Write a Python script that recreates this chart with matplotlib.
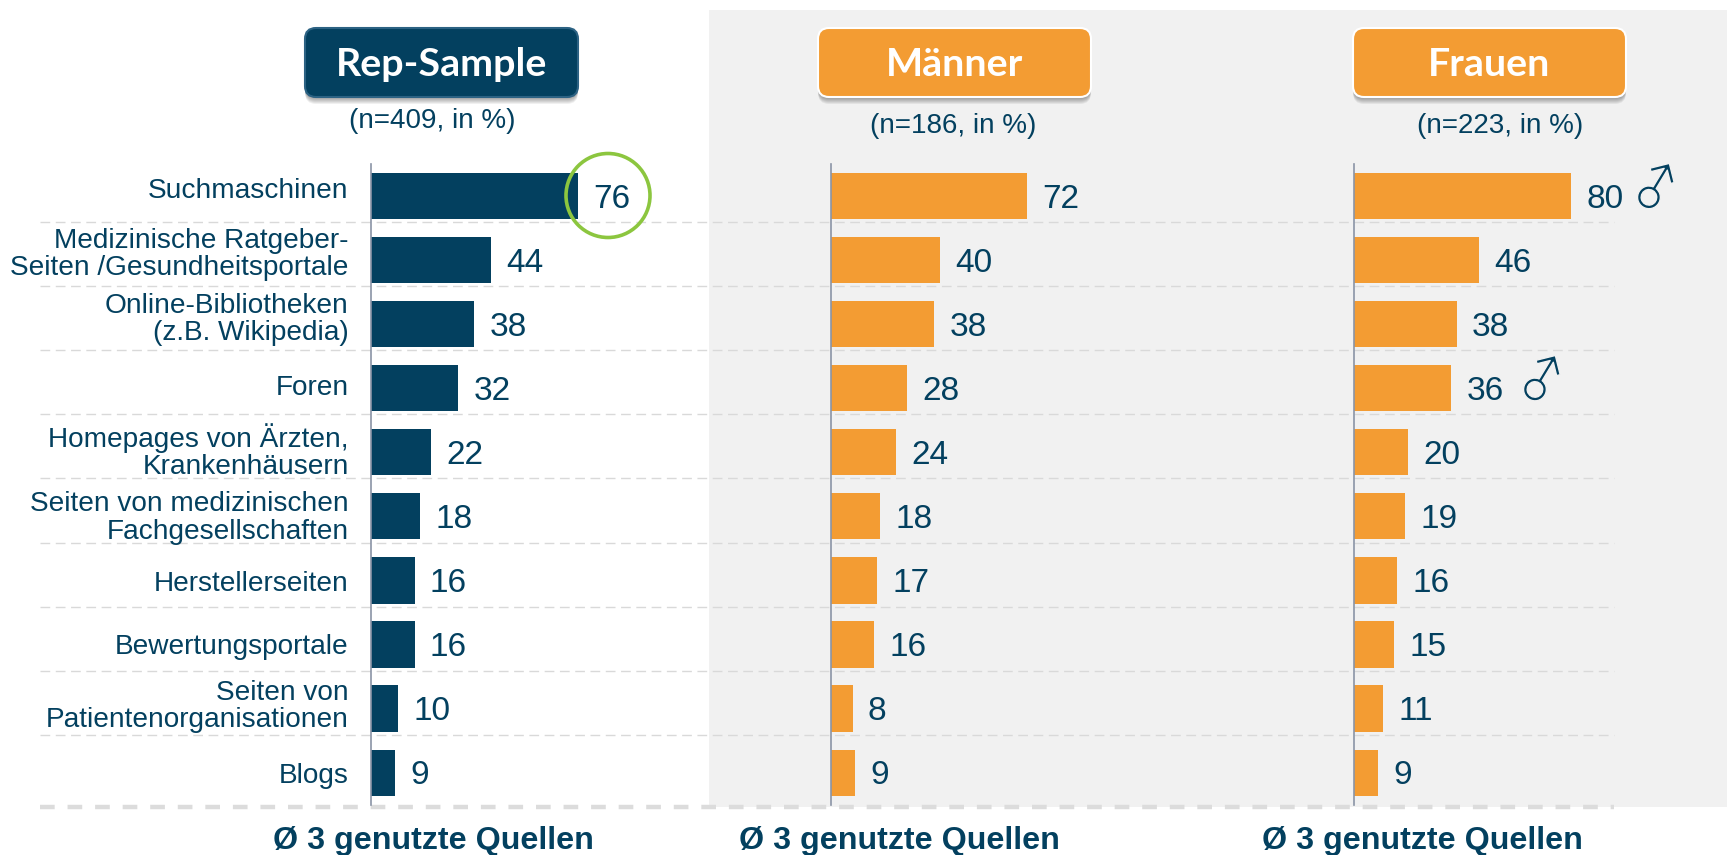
"""Rep-Sample / Männer / Frauen horizontal bars with a shared category column."""
import matplotlib
matplotlib.use("Agg")
import matplotlib.pyplot as plt
import matplotlib.patheffects as pe
from matplotlib.patches import Circle, FancyBboxPatch, Rectangle

W, H = 1727, 855
NAVY = "#03405F"
ORANGE = "#F39C33"
PANEL = "#F1F1F1"

categories = [
    "Suchmaschinen",
    "Medizinische Ratgeber-\nSeiten /Gesundheitsportale",
    "Online-Bibliotheken\n(z.B. Wikipedia)",
    "Foren",
    "Homepages von Ärzten,\nKrankenhäusern",
    "Seiten von medizinischen\nFachgesellschaften",
    "Herstellerseiten",
    "Bewertungsportale",
    "Seiten von\nPatientenorganisationen",
    "Blogs",
]
rep_values = [76, 44, 38, 32, 22, 18, 16, 16, 10, 9]
men_values = [72, 40, 38, 28, 24, 18, 17, 16, 8, 9]
women_values = [80, 46, 38, 36, 20, 19, 16, 15, 11, 9]
subtitles = ["(n=409, in %)", "(n=186, in %)", "(n=223, in %)"]
titles = ["Rep-Sample", "Männer", "Frauen"]
footer = "Ø 3 genutzte Quellen"
male_rows = [0, 3]

# the category labels do not sit at one fixed height against their bars (points)
label_nudge = [4.0, 4.4, 3.2, 0.0, 0.8, -1.2, -2.4, -1.6, 1.6, -2.4]

plt.rcParams["font.family"] = ["Liberation Sans", "DejaVu Sans"]

fig = plt.figure(figsize=(W / 100, H / 100), dpi=100)

# pixel-space layers behind and above the bar axes
bg = fig.add_axes([0, 0, 1, 1], zorder=0)
fg = fig.add_axes([0, 0, 1, 1], zorder=5)
for layer in (bg, fg):
    layer.set_xlim(0, W)
    layer.set_ylim(H, 0)
    layer.axis("off")
    layer.patch.set_visible(False)

bg.add_patch(Rectangle((709, 10), W - 709, 797, facecolor=PANEL, edgecolor="none"))

# row separators
for i in range(9):
    y = 222.3 + 64.04 * i
    bg.plot([40, 1614], [y, y], color="#D9D9D9", lw=1.0, ls=(0, (7, 4)))
bg.plot([40, 1614], [806.7, 806.7], color="#DCDCDC", lw=3.2, ls=(0, (3.3, 2.9)))


def bar_panel(x0, values, color, labels=False):
    # x scale is the same in all three panels: 2.72 px per percent
    width = 300
    ax = fig.add_axes([x0 / W, 1 - 804.6 / H, width / W, 640.4 / H], zorder=2)
    ax.patch.set_visible(False)
    ax.set_xlim(0, width / 2.72)
    ax.set_ylim(9.5, -0.5)
    ax.barh(range(len(values)), values, height=0.72, color=color)
    for side in ("top", "right", "bottom"):
        ax.spines[side].set_visible(False)
    ax.spines["left"].set_color("#8A94A6")
    ax.spines["left"].set_linewidth(1.2)
    ax.set_xticks([])
    ax.set_yticks([])
    for i, v in enumerate(values):
        ax.annotate(str(v), (v, i), xytext=(11, -2.2), textcoords="offset points",
                    ha="left", va="center", fontsize=24, color=NAVY)
    if labels:
        for i, name in enumerate(categories):
            ax.annotate(name, (0, i), xytext=(-16, label_nudge[i]), textcoords="offset points",
                        ha="right", va="center", ma="right", fontsize=20.2,
                        color=NAVY, linespacing=1.06)
    return ax


bar_panel(371, rep_values, NAVY, labels=True)
bar_panel(830.8, men_values, ORANGE)
bar_panel(1353.5, women_values, ORANGE)


def header(x0, x1, text, face, edge):
    y0, y1 = 28, 97
    box = dict(boxstyle="round,pad=0,rounding_size=11")
    for k in range(7, 0, -1):
        bg.add_patch(FancyBboxPatch((x0, y0 + k), x1 - x0, y1 - y0, facecolor="#000000",
                                    edgecolor="none", alpha=0.06, **box))
    bg.add_patch(FancyBboxPatch((x0, y0), x1 - x0, y1 - y0, facecolor=face,
                                edgecolor=edge, lw=1.5, **box))
    bg.text((x0 + x1) / 2, 65, text, ha="center", va="center", color="white",
            fontsize=28.4, fontweight="bold", family="Lato")


header(305, 578, titles[0], NAVY, "#2C6283")
header(818, 1091, titles[1], ORANGE, "white")
header(1353, 1626, titles[2], ORANGE, "white")

for cx, cy, s in zip([432, 953, 1500], [121, 126, 126], subtitles):
    bg.text(cx, cy, s, ha="center", va="center", fontsize=20, color=NAVY)

for cx in (433, 899, 1422):
    bg.text(cx, 841, footer, ha="center", va="center", fontsize=23.2,
            fontweight="bold", color=NAVY)

# highlight ring round the top Rep-Sample value
fg.add_patch(Circle((608, 195.5), 42, fill=False, edgecolor="#8CC63F", lw=2.6))

# male symbols next to the significant Frauen values; panel-coloured stroke thins the glyph
for row, x in zip(male_rows, [1656.5, 1542.5]):
    fg.text(x, 191 + 64.04 * row, "♂", ha="center", va="center", fontsize=38, rotation=14,
            color=NAVY, family=["Noto Sans CJK SC", "DejaVu Sans"],
            path_effects=[pe.Stroke(linewidth=1.0, foreground=PANEL)])

fig.savefig("out.png", dpi=100, facecolor="white")
